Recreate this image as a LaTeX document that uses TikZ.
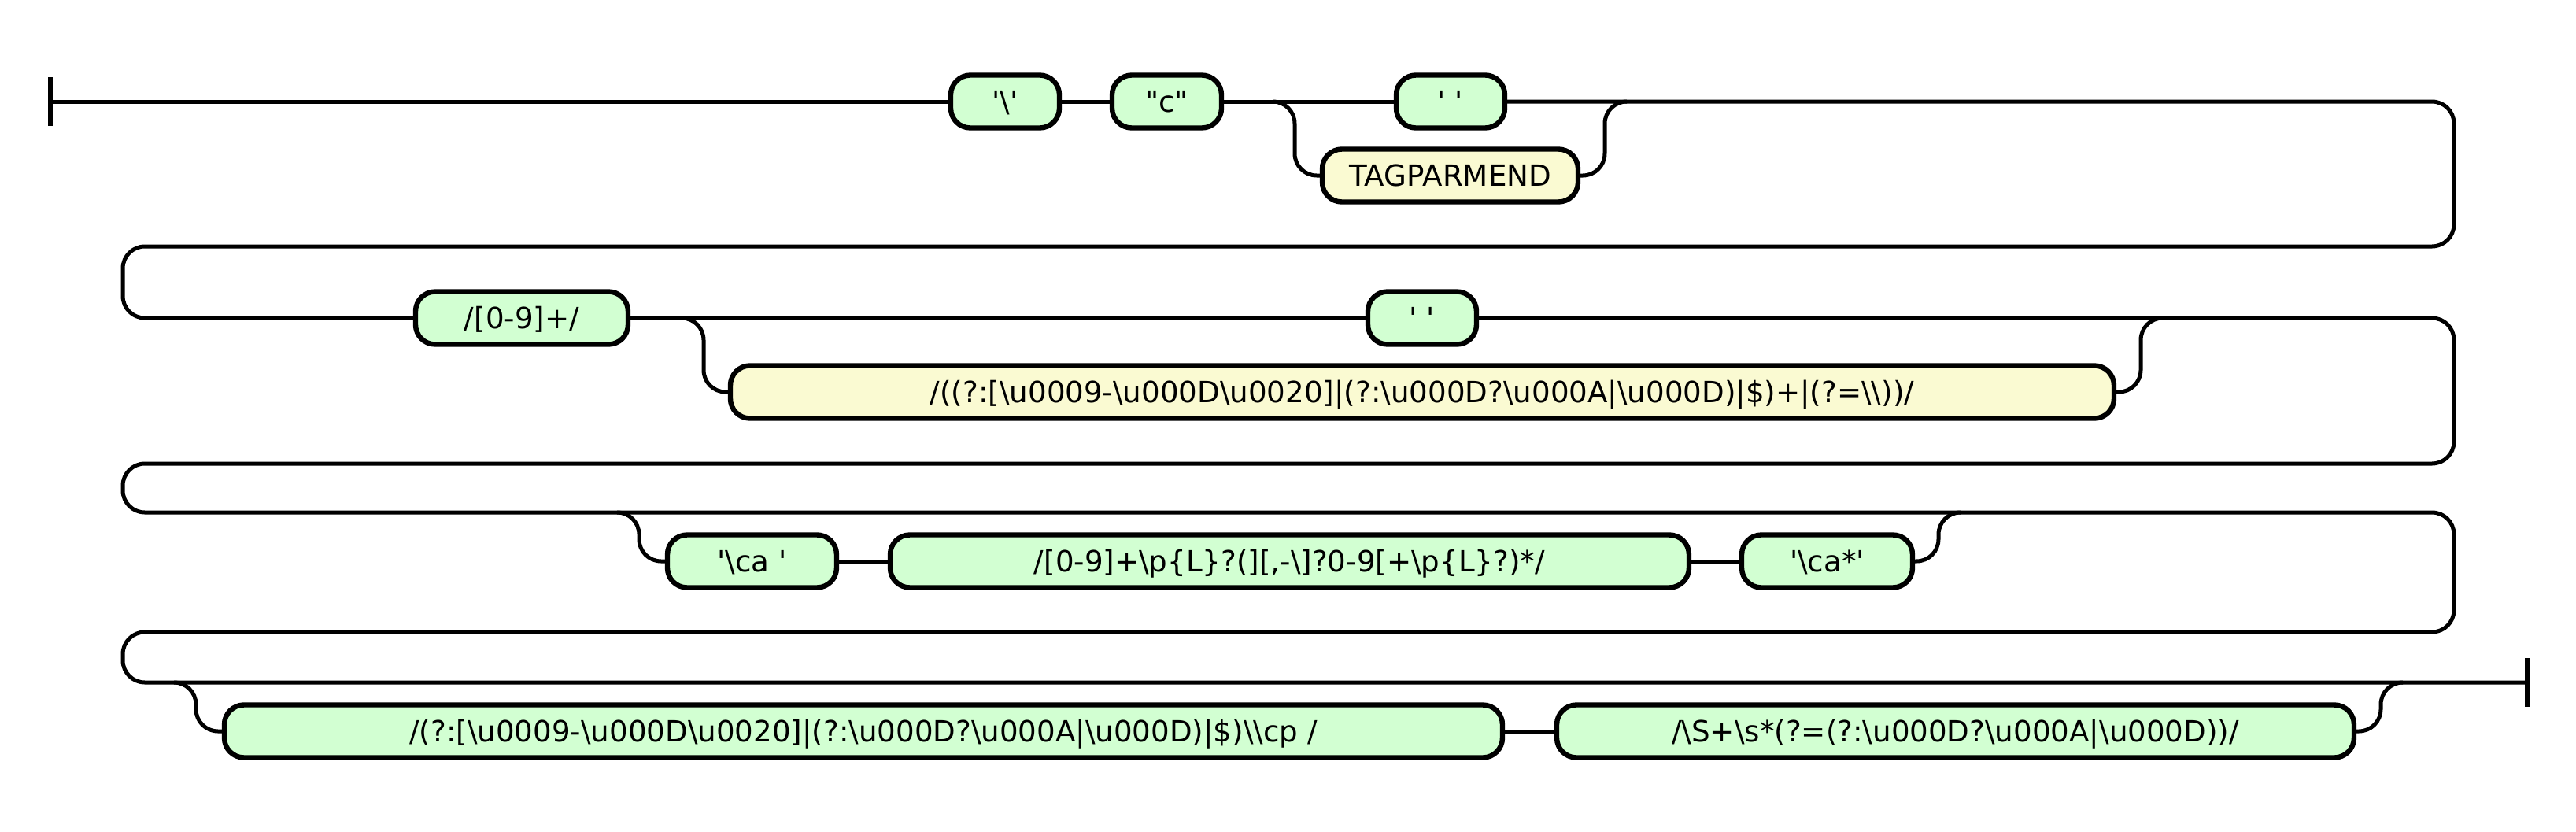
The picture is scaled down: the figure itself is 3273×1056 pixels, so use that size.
\documentclass[tikz,border=0pt]{standalone}
\usepackage{fontspec}
\newfontfamily\rrfont{DejaVu Sans}
\usepackage{xcolor}
\definecolor{termgreen}{RGB}{210,255,210}
\definecolor{ntyellow}{RGB}{250,250,210}
\newcommand{\bsl}{\textbackslash}
\begin{document}
\begin{tikzpicture}
		[   x=0.5pt,y=-0.5pt,
		    rnode/.style={draw=black,line width=3.2pt,fill=#1,rounded corners=12.5pt,minimum height=33.5pt,inner sep=0pt,text height=13.5pt,text depth=0pt,font=\rrfont\fontsize{18.6}{22}\selectfont},
		]
		\tikzset{rail/.style={draw,line width=2.5pt,rounded corners=14pt}}
		\tikzset{rail end/.style={draw,line width=2.8pt}}
		\useasboundingbox (0,0) rectangle (3273,1056);
		
		\coordinate (start) at (64,129);
		\coordinate (end) at (3211,867);
		
		\node[rnode=termgreen,minimum width=69pt] (a-1) at (1277,129) {'\bsl'};
		\node[rnode=termgreen,minimum width=69.5pt] (a-2) at (1482.5,129) {"c"};
		\node[rnode=termgreen,minimum width=69pt] (a-3) at (1843,129) {'\ '};
		\node[rnode=ntyellow,minimum width=162.5pt] (a-4) at (1842.5,223) {TAGPARMEND};
		
		\node[rnode=termgreen,minimum width=135pt] (b-1) at (663,404) {/[0-9]+/};
		\node[rnode=termgreen,minimum width=69pt] (b-2) at (1807,404) {'\ '};
		\node[rnode=ntyellow,minimum width=879pt] (b-3) at (1807,498) {/((?:[\bsl u0009-\bsl u000D\bsl u0020]|(?:\bsl u000D?\bsl u000A|\bsl u000D)|\$)+|(?=\bsl\bsl))/};
		
		\node[rnode=termgreen,minimum width=107.5pt] (c-1) at (955.5,713) {'\bsl ca\ '};
		\node[rnode=termgreen,minimum width=507.5pt] (c-2) at (1638.5,713) {/[0-9]+\bsl p\{L\}?(][,-\bsl]?0-9[+\bsl p\{L\}?)*/};
		\node[rnode=termgreen,minimum width=108.5pt] (c-3) at (2321.5,713) {'\bsl ca*'};
		
		\node[rnode=termgreen,minimum width=812pt] (d-1) at (1097,929) {/(?:[\bsl u0009-\bsl u000D\bsl u0020]|(?:\bsl u000D?\bsl u000A|\bsl u000D)|\$)\bsl\bsl cp /};
		\node[rnode=termgreen,minimum width=506.5pt] (d-2) at (2484.5,929) {/\bsl S+\bsl s*(?=(?:\bsl u000D?\bsl u000A|\bsl u000D))/};
		
		\coordinate (a-split) at (1617,129);
		\coordinate (a-join) at (2067,129);
		\coordinate (b-split) at (866,404);
		\coordinate (b-join) at (2748,404);
		\coordinate (c-split) at (784,651);
		\coordinate (c-join) at (2491,651);
		\coordinate (d-split) at (221,867);
		\coordinate (d-join) at (3053,867);
		
		\path[rail end] ([yshift=15.5pt]start) -- ([yshift=-15.5pt]start);
		\path[rail end] ([yshift=15.5pt]end) -- ([yshift=-15.5pt]end);
		
		\path[rail] (start) -- (a-1.west);
		\foreach \x/\y in {a-1/a-2,a-2/a-3,b-1/b-2,c-1/c-2,c-2/c-3,d-1/d-2}
			{
				\path[rail] (\x.east) -- (\y.west);
			}
		
		\path[rail] (a-split) -- ([xshift=14pt]a-split) |- (a-4.west);
		\path[rail] (a-4.east) -| ([xshift=-14pt]a-join) -- (a-join);
		\path[rail] (b-split) -- ([xshift=14pt]b-split) |- (b-3.west);
		\path[rail] (b-3.east) -| ([xshift=-14pt]b-join) -- (b-join);
		\path[rail] (c-split) -- ([xshift=14pt]c-split) |- (c-1.west);
		\path[rail] (c-3.east) -| ([xshift=-14pt]c-join) -- (c-join);
		\path[rail] (d-split) -- ([xshift=14pt]d-split) |- (d-1.west);
		\path[rail] (d-2.east) -| ([xshift=-14pt]d-join) -- (d-join);
		
		\path[rail] (a-3.east) -- (3118,129) -- (3118,313) -- (156,313) -- (156,404) -- (b-1.west);
		\path[rail] (b-2.east) -- (3118,404) -- (3118,589) -- (156,589) -- (156,651) -- (3118,651) -- (3118,803) -- (156,803) -- (156,867) -- (end);
		
\end{tikzpicture}
\end{document}
